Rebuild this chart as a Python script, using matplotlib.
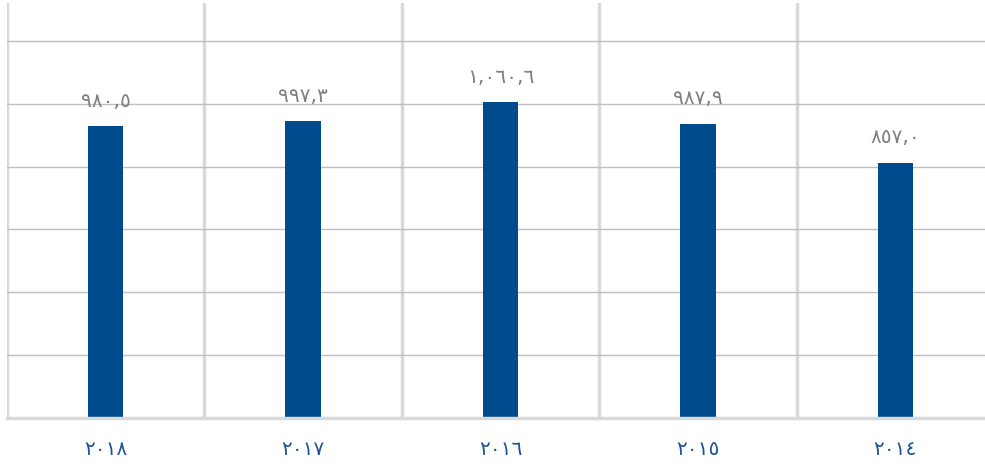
import matplotlib
matplotlib.use("Agg")
import matplotlib.pyplot as plt
from matplotlib.ticker import MultipleLocator, FixedLocator

years = ["٢٠١٤", "٢٠١٥", "٢٠١٦", "٢٠١٧", "٢٠١٨"]
values = [857.0, 987.9, 1060.6, 997.3, 980.5]

AR = str.maketrans("0123456789", "٠١٢٣٤٥٦٧٨٩")

def fmt(v):
    s = f"{v:,.1f}"
    s = s.replace(".", ",")
    return s.translate(AR)

fig = plt.figure(figsize=(9.85, 4.67), dpi=100)
ax = fig.add_axes([7/985, (467-418)/467, 987/985, 415/467])

x = list(range(len(years)))
ax.bar(x, values, width=0.18, color="#004b8d", zorder=3)
for xi, v in zip(x, values):
    ax.annotate(fmt(v), (xi, v), xytext=(0, 11), textcoords="offset points",
                ha="center", va="bottom", fontsize=14.5, color="#808080",
                family=["DejaVu Sans"])

ax.set_xlim(-0.5, 4.5)
ax.invert_xaxis()
ax.set_ylim(0, 1393)
ax.yaxis.set_major_locator(MultipleLocator(211))
ax.grid(axis="y", color="#bfbfbf", linewidth=1, zorder=0)
ax.xaxis.set_minor_locator(FixedLocator([i - 0.5 for i in range(6)]))
ax.grid(axis="x", which="minor", color="#d9d9d9", linewidth=2.5, zorder=1)
ax.set_xticks(x)
ax.set_xticklabels(years, fontsize=14.5, color="#1f5595")
ax.tick_params(axis="x", which="both", length=0, pad=16)
ax.tick_params(axis="y", length=0, labelleft=False)
for s in ["top", "right", "left"]:
    ax.spines[s].set_visible(False)
ax.spines["bottom"].set_color("#d9d9d9")
ax.spines["bottom"].set_linewidth(2.5)
ax.spines["bottom"].set_zorder(4)

fig.savefig("out.png", dpi=100)
